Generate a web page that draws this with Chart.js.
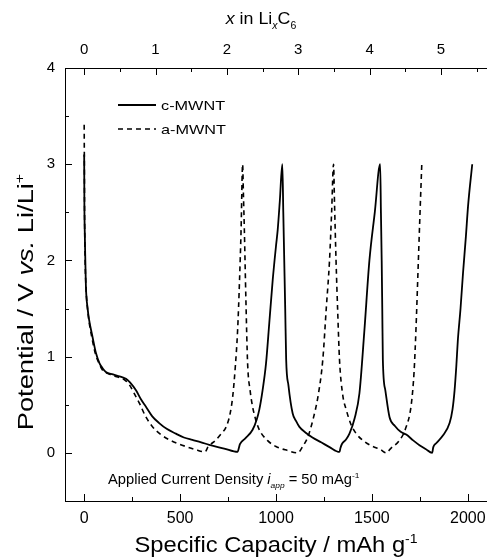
<!DOCTYPE html>
<html lang="en">
<head>
<meta charset="UTF-8">
<title>MWNT discharge / charge</title>
<script src="https://cdn.jsdelivr.net/npm/chart.js"></script>
<style>
  html, body { margin: 0; padding: 0; background: #fff; }
  canvas { display: block; }
</style>
</head>
<body>
<canvas id="chart" width="487" height="559"></canvas>
<script>
// [capacity mAh/g, potential V]
const cMwnt = [
  [0, 3.1], [1, 2.6], [3, 2.3], [6, 2.0], [9, 1.73], [18, 1.5], [26, 1.38], [43, 1.21], [61, 1.04],
  [80, 0.93], [96, 0.88], [113, 0.84], [150, 0.815], [174, 0.8], [200, 0.785], [218, 0.77], [240, 0.73],
  [270, 0.65], [295, 0.56], [322, 0.48], [355, 0.38], [391, 0.31], [430, 0.25], [478, 0.2], [520, 0.16],
  [564, 0.135], [610, 0.11], [652, 0.083], [730, 0.045], [800, 0.01],
  [805, 0.04], [812, 0.09], [840, 0.15], [878, 0.24], [900, 0.35], [913, 0.45], [930, 0.65], [948, 0.93],
  [965, 1.35], [983, 1.8], [1000, 2.15], [1009, 2.32], [1020, 2.62], [1033, 3.0],
  [1038, 2.5], [1043, 2.0], [1048, 1.5], [1053, 0.97], [1065, 0.7], [1087, 0.41], [1105, 0.33],
  [1122, 0.27], [1155, 0.21], [1190, 0.16], [1235, 0.11], [1279, 0.06], [1331, 0.01],
  [1336, 0.05], [1343, 0.09], [1365, 0.14], [1383, 0.2], [1410, 0.36], [1435, 0.62], [1460, 1.25],
  [1487, 2.0], [1515, 2.5], [1543, 3.0],
  [1547, 2.5], [1551, 2.0], [1554, 1.5], [1557, 0.97], [1570, 0.65], [1592, 0.37], [1620, 0.28],
  [1650, 0.22], [1679, 0.19], [1715, 0.13], [1748, 0.08], [1780, 0.04], [1814, 0.0],
  [1820, 0.06], [1835, 0.1], [1870, 0.18], [1905, 0.31], [1920, 0.45], [1931, 0.65], [1940, 0.9],
  [1948, 1.17], [1962, 1.5], [1975, 1.87], [1990, 2.25], [2001, 2.56], [2023, 3.0]
];
const aMwnt = [
  [0, 3.41], [1, 3.0], [2, 2.5], [5, 2.0], [10, 1.7], [20, 1.45], [40, 1.2], [60, 1.02], [80, 0.92],
  [96, 0.86], [130, 0.82], [170, 0.79], [210, 0.76], [235, 0.71], [260, 0.62], [287, 0.52], [320, 0.38],
  [357, 0.27], [400, 0.19], [444, 0.135], [490, 0.095], [531, 0.066], [580, 0.035], [630, 0.01],
  [645, 0.06], [687, 0.135], [715, 0.2], [740, 0.27], [760, 0.4], [774, 0.58], [788, 0.9], [800, 1.28],
  [810, 1.8], [818, 2.32], [826, 3.0],
  [830, 2.7], [835, 2.32], [843, 1.6], [852, 0.93], [865, 0.65], [878, 0.48], [895, 0.34], [913, 0.24],
  [955, 0.13], [1000, 0.066], [1060, 0.025], [1113, 0.0],
  [1140, 0.07], [1165, 0.16], [1192, 0.34], [1220, 0.6], [1244, 0.97], [1262, 1.5], [1279, 2.0],
  [1290, 2.5], [1300, 3.0],
  [1305, 2.6], [1313, 2.0], [1322, 1.45], [1331, 0.97], [1348, 0.6], [1366, 0.45], [1390, 0.3],
  [1418, 0.2], [1460, 0.12], [1505, 0.066], [1545, 0.035], [1574, 0.0],
  [1600, 0.05], [1640, 0.12], [1675, 0.25], [1705, 0.5], [1720, 0.85], [1730, 1.3], [1740, 1.87],
  [1750, 2.45], [1760, 3.0]
];
const seriesNames = ['c-MWNT', 'a-MWNT'];
const capTicks = [0, 500, 1000, 1500, 2000];
const potTicks = [0, 1, 2, 3, 4];
const xLiTicks = [0, 1, 2, 3, 4, 5];
const mAhPerLi = 372;   // 1 Li per C6
const capMin = -100, capMax = 2100;

const FONT = "'Liberation Sans', Arial, sans-serif";

// draws text made of parts, e.g. italic / subscript / superscript pieces
function drawRich(ctx, parts, x, y, size, align, stretch) {
  stretch = stretch || 1;
  const fontFor = p => {
    const s = (p.sub || p.sup) ? Math.round(size * 0.6) : size;
    return (p.it ? 'italic ' : '') + s + 'px ' + FONT;
  };
  let w = 0;
  parts.forEach(p => { ctx.font = fontFor(p); p.w = ctx.measureText(p.t).width; w += p.w; });
  ctx.save();
  ctx.translate(x, y);
  ctx.scale(stretch, 1);
  ctx.fillStyle = '#000';
  ctx.textAlign = 'left';
  ctx.textBaseline = 'alphabetic';
  let cx = align === 'center' ? -w / 2 : 0;
  parts.forEach(p => {
    ctx.font = fontFor(p);
    const dy = p.sub ? size * 0.28 : p.sup ? -size * 0.42 : 0;
    ctx.fillText(p.t, cx, dy);
    cx += p.w;
  });
  ctx.restore();
}

function inwardTicks(ctx, scale, from, to, step, majorStep, side, a) {
  for (let v = from; v <= to + 1e-9; v += step) {
    const major = Math.abs(v / majorStep - Math.round(v / majorStep)) < 1e-6;
    const len = major ? 7 : 4;
    const p = Math.round(scale.getPixelForValue(v)) + 0.5;
    ctx.beginPath();
    if (side === 'bottom') { ctx.moveTo(p, a.bottom); ctx.lineTo(p, a.bottom - len); }
    if (side === 'top') { ctx.moveTo(p, a.top); ctx.lineTo(p, a.top + len); }
    if (side === 'left') { ctx.moveTo(a.left, p); ctx.lineTo(a.left + len, p); }
    ctx.stroke();
  }
}

const decorations = {
  id: 'decorations',
  afterDraw(chart) {
    const { ctx, chartArea: a, scales } = chart;
    ctx.save();
    ctx.strokeStyle = '#000';
    ctx.lineWidth = 1;
    inwardTicks(ctx, scales.x, 0, 2000, 250, 500, 'bottom', a);
    inwardTicks(ctx, scales.x2, 0, 5.5, 0.5, 1, 'top', a);
    inwardTicks(ctx, scales.y, -0.5, 4, 0.5, 1, 'left', a);

    // legend
    chart.data.datasets.forEach((ds, i) => {
      const y = 105 + i * 24;
      ctx.save();
      ctx.lineWidth = ds.borderWidth;
      ctx.setLineDash(ds.borderDash || []);
      ctx.beginPath();
      ctx.moveTo(118, y);
      ctx.lineTo(156, y);
      ctx.stroke();
      ctx.restore();
      drawRich(ctx, [{ t: ds.label }], 161, y + 5, 13, 'left', 1.25);
    });

    // axis titles
    drawRich(ctx, [{ t: 'Specific Capacity / mAh g' }, { t: '-1', sup: true }],
      276, 552, 22, 'center', 1.08);
    drawRich(ctx, [{ t: 'x', it: true }, { t: ' in Li' }, { t: 'x', it: true, sub: true },
      { t: 'C' }, { t: '6', sub: true }], 261, 24, 17, 'center', 1.05);
    ctx.save();
    ctx.translate(33, 302);
    ctx.rotate(-Math.PI / 2);
    drawRich(ctx, [{ t: 'Potential / V ' }, { t: 'vs.', it: true }, { t: ' Li/Li' }, { t: '+', sup: true }],
      0, 0, 22, 'center', 1.24);
    ctx.restore();

    // note
    drawRich(ctx, [{ t: 'Applied Current Density ' }, { t: 'i', it: true }, { t: 'app', it: true, sub: true },
      { t: ' = 50 mAg' }, { t: '-1', sup: true }], 108, 484, 14, 'left', 1.05);
    ctx.restore();
  }
};

const toPoints = arr => arr.map(d => ({ x: d[0], y: d[1] }));
const fixed = vals => scale => { scale.ticks = vals.map(v => ({ value: v })); };
const tickFont = size => ({ family: FONT, size: size });
const plain = v => String(v);
// keep the plot frame running to the right edge of the canvas
const noSidePad = s => { s.paddingLeft = 0; s.paddingRight = 0; };

new Chart(document.getElementById('chart'), {
  type: 'line',
  data: {
    datasets: [
      { label: seriesNames[0], data: toPoints(cMwnt), borderColor: '#000', borderWidth: 1.8,
        pointRadius: 0, cubicInterpolationMode: 'monotone', fill: false },
      { label: seriesNames[1], data: toPoints(aMwnt), borderColor: '#000', borderWidth: 1.6,
        borderDash: [5, 4], pointRadius: 0, cubicInterpolationMode: 'monotone', fill: false }
    ]
  },
  options: {
    responsive: false,
    animation: false,
    devicePixelRatio: 1,
    layout: { padding: 0 },
    plugins: { legend: { display: false }, tooltip: { enabled: false } },
    scales: {
      x: {
        type: 'linear', position: 'bottom', min: capMin, max: capMax,
        afterBuildTicks: fixed(capTicks),
        afterFit: s => { s.height = 58; noSidePad(s); },
        grid: { display: false },
        border: { display: true, color: '#000', width: 1 },
        ticks: { color: '#000', font: tickFont(16), padding: 0, maxRotation: 0, callback: plain }
      },
      x2: {
        type: 'linear', position: 'top', min: capMin / mAhPerLi, max: capMax / mAhPerLi,
        afterBuildTicks: fixed(xLiTicks),
        afterFit: s => { s.height = 68; noSidePad(s); },
        grid: { display: false },
        border: { display: true, color: '#000', width: 1 },
        ticks: { color: '#000', font: tickFont(15), padding: 1, maxRotation: 0, callback: plain }
      },
      y: {
        type: 'linear', position: 'left', min: -0.5, max: 4,
        afterBuildTicks: fixed(potTicks),
        afterFit: s => { s.width = 65; s.paddingTop = 0; s.paddingBottom = 0; },
        grid: { display: false },
        border: { display: true, color: '#000', width: 1 },
        ticks: { color: '#000', font: tickFont(15), padding: 2, callback: plain }
      }
    }
  },
  plugins: [decorations]
});
</script>
</body>
</html>
